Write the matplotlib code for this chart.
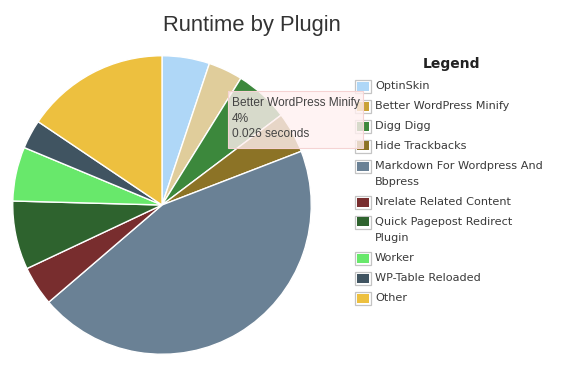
import matplotlib.pyplot as plt
from matplotlib.patches import Rectangle

W, H = 565, 369

plugins = ['OptinSkin', 'Better WordPress Minify', 'Digg Digg', 'Hide Trackbacks',
           'Markdown For Wordpress And\nBbpress', 'Nrelate Related Content',
           'Quick Pagepost Redirect\nPlugin', 'Worker', 'WP-Table Reloaded', 'Other']
seconds = [0.036, 0.026, 0.041, 0.031, 0.312, 0.030, 0.052, 0.041, 0.022, 0.109]
colors = ['#afd7f7', '#c9a135', '#3c883c', '#8c7326', '#6a8195',
          '#782d2e', '#2e632e', '#68e86b', '#405461', '#edc03f']

hovered = 1              # slice under the mouse (Better WordPress Minify)
hover_color = '#e0cd9b'  # lighter highlight drawn on the hovered slice


def fx(x):
    return x / W


def fy(y):
    return 1 - y / H


fig = plt.figure(figsize=(W / 100, H / 100), dpi=100)

#%% pie
cx, cy, r = 162, 205, 150
ax = fig.add_axes([fx(cx - r), fy(cy + r), 2 * r / W, 2 * r / H])
slice_colors = list(colors)
slice_colors[hovered] = hover_color
ax.pie(seconds, colors=slice_colors, startangle=90, counterclock=False,
       wedgeprops=dict(edgecolor='white', linewidth=1.0))
ax.set_xlim(-1.005, 1.005)
ax.set_ylim(-1.005, 1.005)
ax.set_aspect('equal')
ax.axis('off')

fig.text(fx(252), fy(26), 'Runtime by Plugin', ha='center', va='center',
         fontsize=15.8, color='#333333', family=['Liberation Sans', 'DejaVu Sans'])

#%% legend
fig.text(fx(452), fy(64), 'Legend', ha='center', va='center', fontsize=10,
         fontweight='bold', color='#222222', family='DejaVu Sans')

y = 86
for name, c in zip(plugins, colors):
    fig.add_artist(Rectangle((fx(354.5), fy(92.5 + y - 86)), 16.5 / W, 13 / H,
                             transform=fig.transFigure, facecolor='white',
                             edgecolor='#c4c4c4', linewidth=0.9, zorder=1))
    fig.add_artist(Rectangle((fx(356.5), fy(90.5 + y - 86)), 12.5 / W, 9 / H,
                             transform=fig.transFigure, facecolor=c,
                             edgecolor='none', zorder=1.1))
    for k, part in enumerate(name.split('\n')):
        fig.text(fx(375), fy(y + 16 * k), part, ha='left', va='center',
                 fontsize=8.1, color='#3a3a3a', family='DejaVu Sans')
    y += 20 + 16 * name.count('\n')

#%% tooltip
total = sum(seconds)
fig.add_artist(Rectangle((fx(228), fy(148)), 135 / W, 57 / H,
                         transform=fig.transFigure, facecolor=(1, 0.94, 0.94),
                         alpha=0.8, edgecolor='none', zorder=5))
fig.add_artist(Rectangle((fx(228), fy(148)), 135 / W, 57 / H,
                         transform=fig.transFigure, facecolor='none',
                         edgecolor='#f5d3d3', linewidth=0.8, zorder=5.1))
tip = [plugins[hovered], f'{100 * seconds[hovered] / total:.0f}%',
       f'{seconds[hovered]:.3f} seconds']
for i, line in enumerate(tip):
    fig.text(fx(232), fy(103 + 15.5 * i), line, ha='left', va='center',
             fontsize=8.6, color='#444444', zorder=6,
             family=['Liberation Sans', 'DejaVu Sans'])

fig.savefig('out.png', dpi=100)
